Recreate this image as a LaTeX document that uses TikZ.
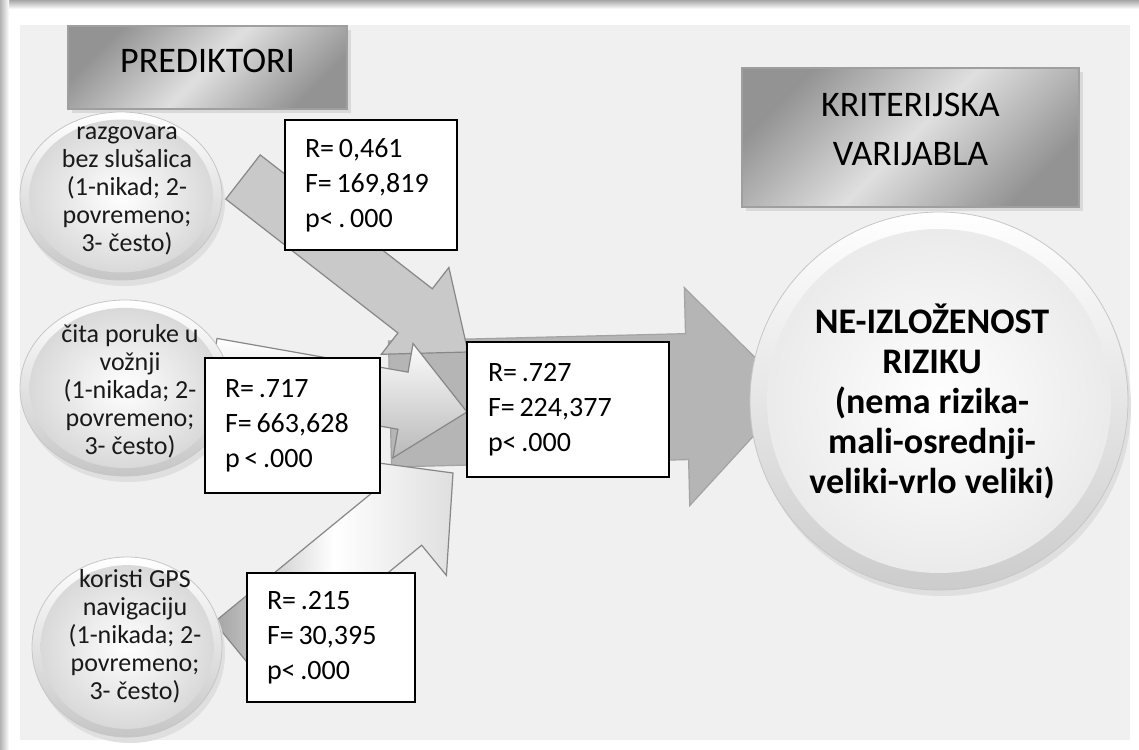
\documentclass[tikz,border=0pt]{standalone}
\usepackage{fontspec}
\setmainfont{Carlito}
\usetikzlibrary{calc}
\definecolor{bgfill}{RGB}{240,240,240}
\definecolor{edgegray}{RGB}{135,135,135}
\newcommand{\statsp}{\frenchspacing\spaceskip=0.17em\relax\xspaceskip=0.17em\relax}

% block arrow: #1 name, #2 style, #3 tail coord, #4 tip coord, #5 shaft half width, #6 head half width, #7 head length
\newcommand{\blockarrow}[7]{%
  \coordinate (#1-h) at ($(#4)!#7!(#3)$);
  \coordinate (#1-t1) at ($(#3)!#5!90:(#4)$);
  \coordinate (#1-t2) at ($(#3)!#5!-90:(#4)$);
  \coordinate (#1-s1) at ($(#1-h)!#5!90:(#4)$);
  \coordinate (#1-s2) at ($(#1-h)!#5!-90:(#4)$);
  \coordinate (#1-b1) at ($(#1-h)!#6!90:(#4)$);
  \coordinate (#1-b2) at ($(#1-h)!#6!-90:(#4)$);
  \path[#2] (#1-t1) -- (#1-s1) -- (#1-b1) -- (#4) -- (#1-b2) -- (#1-s2) -- (#1-t2) -- cycle;
}
% glossy oval: #1 centre, #2 x radius, #3 y radius, #4 rim bottom colour, #5 inner outer colour
\newcommand{\glossyoval}[5]{%
  \fill[gray!25] ($(#1)+(3,6)$) ellipse [x radius=#2, y radius=#3];
  \shadedraw[top color=white, bottom color=#4, draw=gray!45, line width=0.4pt] (#1) ellipse [x radius=#2, y radius=#3];
  \shade[inner color=white, outer color=#5] (#1) ellipse [x radius=0.91*#2, y radius=0.91*#3];
}

\begin{document}
\begin{tikzpicture}[x=0.5pt,y=-0.5pt,
  arrA/.style={fill=gray!42, draw=edgegray, line width=0.6pt},
  arrB/.style={top color=white, bottom color=gray!55, draw=edgegray, line width=0.6pt},
  arrC/.style={left color=gray!72, right color=gray!25, middle color=white, draw=edgegray, line width=0.6pt},
  arrBig/.style={fill=gray!58, draw=gray!72, line width=0.6pt},
  hdrbox/.style={draw=gray!75, line width=0.6pt, left color=gray!85, right color=gray!85, middle color=gray!25,
    shading angle=45, inner sep=0},
  hdrtext/.style={font=\fontsize{18}{24.5}\selectfont, align=center, inner sep=0, text=black},
  ovaltext/.style={font=\fontsize{13}{14}\selectfont, align=center, inner sep=0, text=black!90},
  bigtext/.style={font=\bfseries\fontsize{18}{20}\selectfont, align=center, inner sep=0, text=black},
  stat/.style 2 args={draw=black, line width=0.7pt, fill=white, align=left, inner xsep=10pt, inner ysep=0pt,
    text width=#1, minimum height=#2, font=\fontsize{14}{17.5}\selectfont}
]
\useasboundingbox (0,0) rectangle (1139,749);

% frame
\fill[white] (0,0) rectangle (1139,749);
\shade[top color=gray!70, bottom color=white] (0,0) rectangle (1139,9);
\shade[left color=gray!60, right color=white] (0,0) rectangle (9,749);
\fill[bgfill] (20,25) rectangle (1130,740);

% headers
\fill[gray!30] (72,30) rectangle (351,113);
\node[hdrbox, minimum width=139.5pt, minimum height=41.5pt] (predbox) at (207.5,67.5) {};
\node[hdrtext] (predtext) at (207.5,61) {PREDIKTORI};
\fill[gray!30] (746,72) rectangle (1083,211);
\node[hdrbox, minimum width=168.5pt, minimum height=69.5pt] (kritbox) at (910.5,137.5) {};
\node[hdrtext] (krittext) at (910.5,129) {KRITERIJSKA\\VARIJABLA};

% arrows
\coordinate (a4t) at (390,404); \coordinate (a4h) at (792,394);
\blockarrow{A4}{arrBig}{a4t}{a4h}{31.5pt}{54.5pt}{52.5pt}
\coordinate (a1t) at (243,177); \coordinate (a1h) at (468,352);
\blockarrow{A1}{arrA}{a1t}{a1h}{14pt}{27.5pt}{33.5pt}
\coordinate (a2t) at (212,367); \coordinate (a2h) at (467,412);
\blockarrow{A2}{arrB}{a2t}{a2h}{14.5pt}{29pt}{32.5pt}
\coordinate (a3t) at (237,650); \coordinate (a3h) at (453,473);
\blockarrow{A3}{arrC}{a3t}{a3h}{18pt}{37.5pt}{35pt}

% ovals
\coordinate (o1) at (121,196);
\glossyoval{o1}{50.5pt}{42pt}{gray!45}{gray!30}
\coordinate (o2) at (125,388);
\glossyoval{o2}{52.5pt}{44pt}{gray!45}{gray!30}
\coordinate (o3) at (127,647);
\glossyoval{o3}{47.5pt}{45pt}{gray!45}{gray!30}
\coordinate (oc) at (939,401);
\glossyoval{oc}{94.5pt}{94.5pt}{gray!40}{gray!16}

\node[ovaltext] (t1) at (127,191) {razgovara\\bez slušalica\\(1-nikad; 2-\\povremeno;\\3- često)};
\node[ovaltext] (t2) at (130,391) {čita poruke u\\vožnji\\(1-nikada; 2-\\povremeno;\\3- često)};
\node[ovaltext] (t3) at (135,636) {koristi GPS\\navigaciju\\(1-nikada; 2-\\povremeno;\\3- često)};
\node[bigtext] (tc) at (932,401) {NE-IZLOŽENOST\\RIZIKU\\(nema rizika-\\mali-osrednji-\\veliki-vrlo veliki)};

% stat boxes
\node[stat={66pt}{65pt}] (sA) at (371,185) {\statsp R= 0,461\\F= 169,819\\p< . 000};
\node[stat={67.5pt}{67.5pt}] (sB) at (292.5,425.5) {\statsp R= .717\\F= 663,628\\p < .000};
\node[stat={80pt}{67.5pt}, inner xsep=10.5pt] (sC) at (568,409.5) {\statsp R= .727\\F= 224,377\\p< .000};
\node[stat={64pt}{64.5pt}] (sD) at (331,637.5) {\statsp R= .215\\F= 30,395\\p< .000};
\end{tikzpicture}
\end{document}
